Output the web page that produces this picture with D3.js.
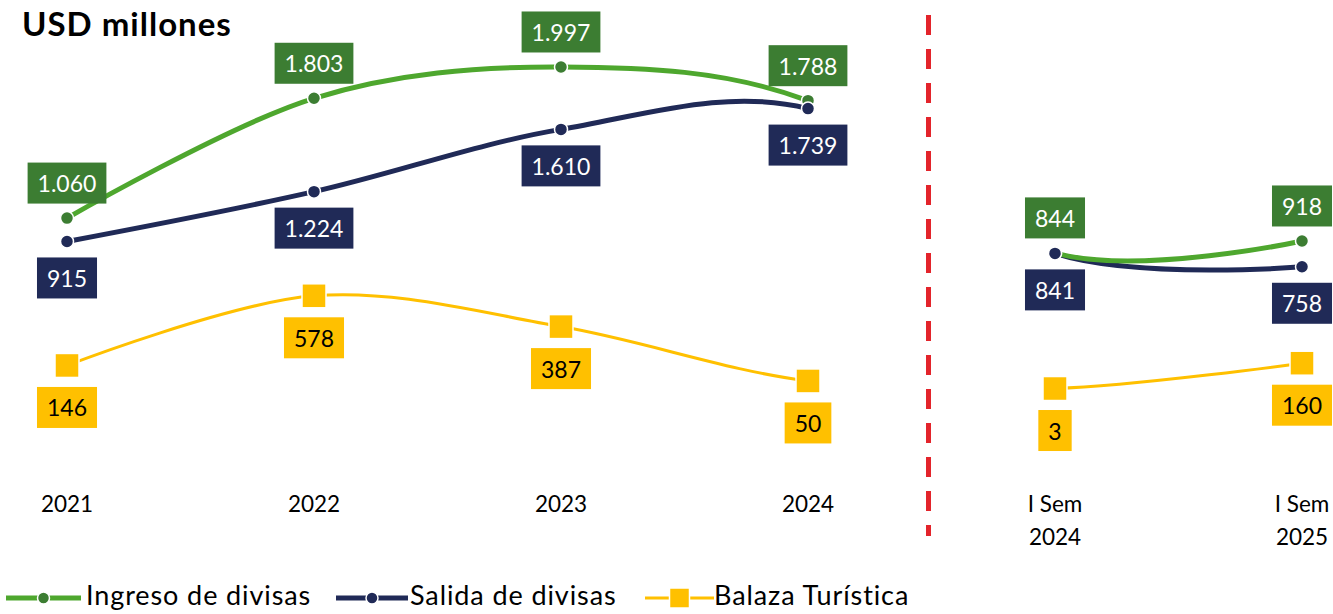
<!DOCTYPE html>
<html>
<head>
<meta charset="utf-8">
<script src="https://cdn.jsdelivr.net/npm/d3@7"></script>
<style>
  html, body { margin: 0; padding: 0; background: #fff; }
  svg { display: block; font-family: Lato, "Open Sans", sans-serif; }
</style>
</head>
<body>
<svg id="chart"></svg>
<script>
// ======================
// DATA
// ======================
const categories = ["2021", "2022", "2023", "2024", "I Sem 2024", "I Sem 2025"];
const tickLines = [["2021"], ["2022"], ["2023"], ["2024"], ["I Sem", "2024"], ["I Sem", "2025"]];
const ingreso = [1060, 1803, 1997, 1788, 844, 918];
const salida = [915, 1224, 1610, 1739, 841, 758];
const balanza = [146, 578, 387, 50, 3, 160];
const seriesNames = ["Ingreso de divisas", "Salida de divisas", "Balaza Turística"];

// ======================
// SETUP
// ======================
const width = 1333;
const height = 614;
const svg = d3.select("#chart").attr("width", width).attr("height", height);

const x = d3.scalePoint().domain(categories).range([67, 1302]).padding(0);
const y = d3.scaleLinear().domain([0, 2000]).range([389, 66.5]);

const fmt = d3.formatLocale({ decimal: ",", thousands: ".", grouping: [3], currency: ["", ""] }).format(",d");

const series = [
    { name: seriesNames[0], values: ingreso, line: "#4EA72E", dark: "#3C7D32", text: "#fff", width: 5, marker: "circle", labelDy: -35 },
    { name: seriesNames[1], values: salida, line: "#202A57", dark: "#202A57", text: "#fff", width: 5, marker: "circle", labelDy: 36.5 },
    { name: seriesNames[2], values: balanza, line: "#FFC000", dark: "#FFC000", text: "#000", width: 3, marker: "square", labelDy: 42 }
];

// clip the hidden segment between 2024 and I Sem 2024
const defs = svg.append("defs");
const clip = defs.append("clipPath").attr("id", "segClip");
clip.append("rect").attr("x", 0).attr("y", 0)
    .attr("width", x("2024")).attr("height", height);
clip.append("rect").attr("x", x("I Sem 2024")).attr("y", 0)
    .attr("width", width - x("I Sem 2024")).attr("height", height);

// title
svg.append("text")
    .attr("x", 22).attr("y", 36)
    .attr("font-size", 33).attr("font-weight", 700)
    .attr("letter-spacing", 1)
    .attr("fill", "#000")
    .text("USD millones");

// red divider
const midX = (x("2024") + x("I Sem 2024")) / 2 - 3;
svg.append("line")
    .attr("x1", midX).attr("x2", midX)
    .attr("y1", 15).attr("y2", 536)
    .attr("stroke", "#E3242B").attr("stroke-width", 5)
    .attr("stroke-dasharray", "20 14");

// x axis labels
const axisG = svg.append("g");
categories.forEach((c, i) => {
    const t = axisG.append("text")
        .attr("x", x(c)).attr("y", 512)
        .attr("text-anchor", "middle")
        .attr("font-size", 22.5).attr("fill", "#000");
    tickLines[i].forEach((s, j) => {
        t.append("tspan").attr("x", x(c)).attr("dy", j === 0 ? 0 : 33).text(s);
    });
});

// ======================
// LINES
// ======================
const line = d3.line()
    .x((d, i) => x(categories[i]))
    .y(d => y(d))
    .curve(d3.curveCatmullRom.alpha(0));

// lines: balanza, salida, ingreso on top
[series[2], series[1], series[0]].forEach(s => {
    svg.append("path")
        .datum(s.values)
        .attr("clip-path", "url(#segClip)")
        .attr("fill", "none")
        .attr("stroke", s.line)
        .attr("stroke-width", s.width)
        .attr("d", line);
});

// markers: navy on top of green
[series[2], series[0], series[1]].forEach(s => {
    const g = svg.append("g");
    s.values.forEach((v, i) => {
        const cx = x(categories[i]);
        const cy = y(v);
        if (s.marker === "circle") {
            g.append("circle").attr("cx", cx).attr("cy", cy).attr("r", 6.5)
                .attr("fill", s.dark).attr("stroke", "#fff").attr("stroke-width", 1.5);
        } else {
            g.append("rect").attr("x", cx - 12).attr("y", cy - 12)
                .attr("width", 24).attr("height", 24)
                .attr("fill", s.dark).attr("stroke", "#fff").attr("stroke-width", 1.5);
        }
    });
});

// data labels
series.forEach(s => {
    const g = svg.append("g");
    s.values.forEach((v, i) => {
        const cx = x(categories[i]);
        const cy = y(v) + s.labelDy;
        const lg = g.append("g");
        const rect = lg.append("rect").attr("fill", s.dark);
        const t = lg.append("text")
            .attr("x", cx).attr("y", cy)
            .attr("text-anchor", "middle")
            .attr("dominant-baseline", "central")
            .attr("font-size", 23)
            .attr("fill", s.text)
            .text(fmt(v));
        const w = t.node().getComputedTextLength() + 20;
        rect.attr("x", cx - w / 2).attr("y", cy - 20.5)
            .attr("width", w).attr("height", 41);
    });
});

// ======================
// LEGEND
// ======================
const legendItems = [
    { s: series[0], x0: 6, x1: 81, tx: 86 },
    { s: series[1], x0: 336, x1: 408, tx: 410 },
    { s: series[2], x0: 645, x1: 714, tx: 714 }
];
const ly = 598;
const legend = svg.append("g");
legendItems.forEach(item => {
    const s = item.s;
    legend.append("line")
        .attr("x1", item.x0).attr("x2", item.x1)
        .attr("y1", ly).attr("y2", ly)
        .attr("stroke", s.line).attr("stroke-width", s.width);
    const mx = (item.x0 + item.x1) / 2;
    if (s.marker === "circle") {
        legend.append("circle").attr("cx", mx).attr("cy", ly).attr("r", 6)
            .attr("fill", s.dark).attr("stroke", "#fff").attr("stroke-width", 1.5);
    } else {
        legend.append("rect").attr("x", mx - 10).attr("y", ly - 10)
            .attr("width", 20).attr("height", 20)
            .attr("fill", s.dark).attr("stroke", "#fff").attr("stroke-width", 1.5);
    }
    legend.append("text")
        .attr("x", item.tx).attr("y", ly + 7)
        .attr("font-size", 27).attr("letter-spacing", 0.9)
        .attr("fill", "#000")
        .text(s.name);
});
</script>
</body>
</html>
